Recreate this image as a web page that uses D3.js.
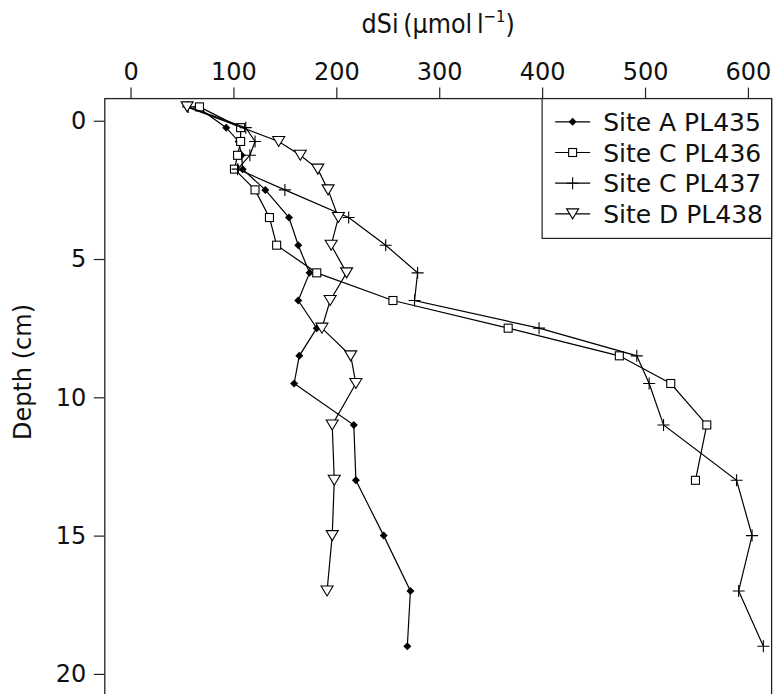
<!DOCTYPE html>
<html>
<head>
<meta charset="utf-8">
<script src="https://cdn.jsdelivr.net/npm/d3@7"></script>
<style>
  body { margin: 0; background: #fff; }
  text { font-family: "DejaVu Sans", sans-serif; fill: #111; }
</style>
</head>
<body>
<div id="chart"></div>
<script>
// depth profiles of dissolved silica
var depths = [-0.5, 0.25, 0.75, 1.25, 1.75, 2.5, 3.5, 4.5, 5.5, 6.5, 7.5, 8.5, 9.5, 11, 13, 15, 17, 19];
var siteA435 = [65, 93, 105, 108, 109, 131, 154, 163, 174, 163, 181, 164, 159, 217, 219, 246, 272, 269];
var siteC436 = [67, 107, 107, 104, 101, 121, 135, 142, 181, 255, 367, 475, 525, 560, 549, null, null, null];
var siteC437 = [56, 112, 121, 116, 104, 150, 212, 248, 279, 276, 397, 492, 504, 518, 589, 604, 591, 615];
var siteD438 = [55, null, 144, 165, 182, 192, 202, 195, 210, 194, 186, 214, 219, 196, 198, 196, 191, null];
var seriesNames = ["Site A PL435", "Site C PL436", "Site C PL437", "Site D PL438"];
var xTicks = [0, 100, 200, 300, 400, 500, 600];
var yTicks = [0, 5, 10, 15, 20];

var svgWidth = 776;
var svgHeight = 694;
var margin = { top: 98.6, left: 104.8 };
var width = 666.8;
var height = 616.8;

var svg = d3.select("#chart")
  .append("svg")
  .attr("width", svgWidth)
  .attr("height", svgHeight)
  .style("background", "#fff");

var g = svg.append("g")
  .attr("transform", `translate(${margin.left}, ${margin.top})`);

var x = d3.scaleLinear().domain([-25, 623]).range([0, width]);
var y = d3.scaleLinear().domain([-0.8, 21.5]).range([0, height]);

// axes
var topAxis = g.append("g")
  .call(d3.axisTop(x).tickValues(xTicks).tickSize(11).tickPadding(7.6));
var leftAxis = g.append("g")
  .call(d3.axisLeft(y).tickValues(yTicks).tickSize(11).tickPadding(7.5));

[topAxis, leftAxis].forEach(function (ax) {
  ax.select(".domain").remove();
  ax.selectAll("line").attr("stroke", "#222").attr("stroke-width", 1.2);
  ax.selectAll("text")
    .attr("fill", "#111")
    .style("font-family", "'DejaVu Sans', sans-serif")
    .style("font-size", "24px");
});

// frame
g.append("rect")
  .attr("x", 0).attr("y", 0)
  .attr("width", width).attr("height", height)
  .attr("fill", "none")
  .attr("stroke", "#222")
  .attr("stroke-width", 1.3);

// markers
var markers = [
  function (s) { s.append("path").attr("d", "M0,-4L4,0L0,4L-4,0Z").attr("fill", "#000"); },
  function (s) { s.append("rect").attr("x", -4).attr("y", -4).attr("width", 8).attr("height", 8)
    .attr("fill", "#fff").attr("stroke", "#000").attr("stroke-width", 1.1); },
  function (s) { s.append("path").attr("d", "M-6,0H6M0,-6V6").attr("fill", "none")
    .attr("stroke", "#000").attr("stroke-width", 1.1); },
  function (s) { s.append("path").attr("d", "M-6,-5L6,-5L0,5Z")
    .attr("fill", "#fff").attr("stroke", "#000").attr("stroke-width", 1.1); }
];

var allSeries = [siteA435, siteC436, siteC437, siteD438];
var line = d3.line().x(d => x(d.v)).y(d => y(d.depth));

allSeries.forEach(function (vals, i) {
  var pts = depths.map((d, j) => ({ depth: d, v: vals[j] })).filter(d => d.v != null);
  var sg = g.append("g");
  sg.append("path")
    .datum(pts)
    .attr("d", line)
    .attr("fill", "none")
    .attr("stroke", "#000")
    .attr("stroke-width", 1.2);
  sg.selectAll("g.pt")
    .data(pts)
    .enter()
    .append("g")
    .attr("class", "pt")
    .attr("transform", d => `translate(${x(d.v)}, ${y(d.depth)})`)
    .each(function () { markers[i](d3.select(this)); });
});

// legend
var lx = x(400);
var legend = g.append("g");
legend.append("rect")
  .attr("x", lx).attr("y", 0)
  .attr("width", width - lx).attr("height", 139.8)
  .attr("fill", "#fff")
  .attr("stroke", "#222")
  .attr("stroke-width", 1.2);

seriesNames.forEach(function (name, i) {
  var ly = 23.2 + i * 30.7;
  var row = legend.append("g").attr("transform", `translate(${lx}, ${ly})`);
  row.append("line")
    .attr("x1", 13).attr("x2", 48).attr("y1", 0).attr("y2", 0)
    .attr("stroke", "#000").attr("stroke-width", 1.2);
  var m = row.append("g").attr("transform", "translate(30.5,0)");
  markers[i](m);
  row.append("text")
    .attr("x", 61)
    .attr("y", 0)
    .attr("dy", "0.36em")
    .style("font-size", "25px")
    .text(name);
});

// axis titles
var title = svg.append("text")
  .attr("x", margin.left + width / 2)
  .attr("y", 33)
  .attr("text-anchor", "middle")
  .style("font-family", "'DejaVu Sans Condensed', 'DejaVu Sans', sans-serif")
  .style("font-stretch", "condensed")
  .style("font-size", "26.5px");
title.append("tspan").text("dSi\u2009(\u00b5mol\u2009l");
title.append("tspan").attr("dy", -11).style("font-size", "16.5px").text("\u22121");
title.append("tspan").attr("dy", 11).text(")");

svg.append("text")
  .attr("transform", "translate(22, 372) rotate(-90)")
  .attr("text-anchor", "middle")
  .attr("dy", "0.36em")
  .style("font-size", "24px")
  .text("Depth (cm)");
</script>
</body>
</html>
